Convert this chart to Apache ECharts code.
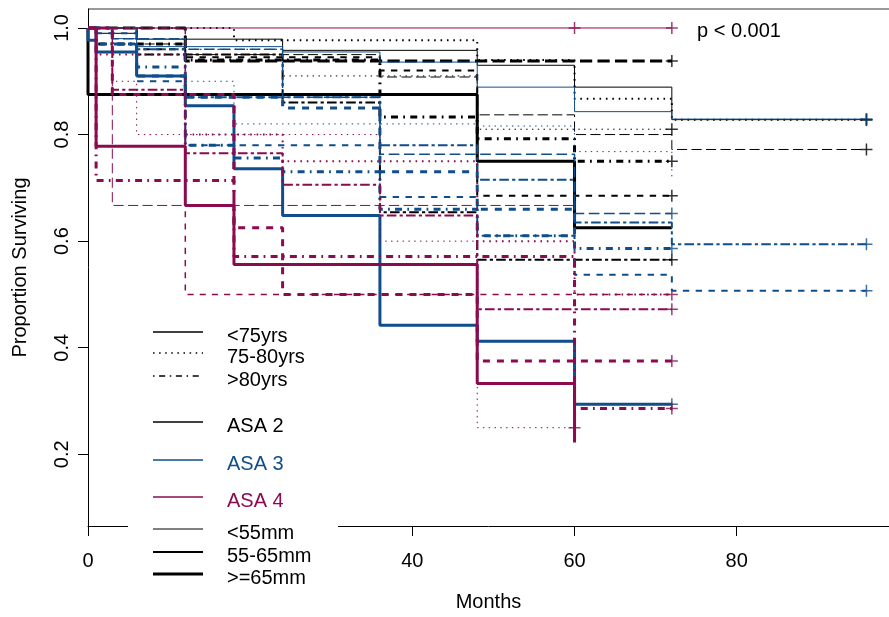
<!DOCTYPE html>
<html>
<head>
<meta charset="utf-8">
<script src="https://cdn.jsdelivr.net/npm/echarts@6/dist/echarts.min.js"></script>
<style>
  html, body { margin: 0; padding: 0; background: #fff; }
  #chart { width: 889px; height: 617px; }
</style>
</head>
<body>
<div id="chart"></div>
<script>
// axis ticks
var xTicks = [0, 20, 40, 60, 80];
var yTicks = [0.2, 0.4, 0.6, 0.8, 1.0];

// survival curves: times (months), proportion surviving, censor times
// ASA 2 (black)
var k1T = [0, 0, 48, 60, 72],                     k1S = [1, 0.875, 0.75, 0.625, 0.625],          k1C = [];
var k2T = [0, 12, 72],                            k2S = [1, 0.938, 0.938],                       k2C = [72];
var k3T = [0, 18, 48, 60, 72, 96],                k3S = [1, 0.977, 0.94, 0.867, 0.828, 0.828],   k3C = [96];
var k4T = [0, 1, 6, 24, 48, 60, 72, 96],          k4S = [1, 0.99, 0.979, 0.958, 0.93, 0.889, 0.828, 0.828], k4C = [96];
var k5T = [0, 3, 12, 36, 48, 60, 72, 96],         k5S = [1, 0.97, 0.95, 0.908, 0.837, 0.8, 0.772, 0.772], k5C = [96];
var k6T = [0, 1, 12, 36, 48, 60, 72],             k6S = [1, 0.97, 0.94, 0.833, 0.792, 0.75, 0.75], k6C = [72];
var k7T = [0, 6, 12, 36, 48, 72],                 k7S = [1, 0.96, 0.945, 0.92, 0.685, 0.685],    k7C = [72];
var k8T = [0, 6, 24, 36, 48, 72],                 k8S = [1, 0.95, 0.86, 0.654, 0.565, 0.565],    k8C = [72];
var k9T = [0, 12, 24, 48, 72],                    k9S = [1, 0.96, 0.91, 0.81, 0.81],             k9C = [72];
// ASA 3 (blue)
var b1T = [0, 0, 1, 6, 12, 18, 24, 36, 48, 60, 72], b1S = [1, 0.977, 0.955, 0.91, 0.854, 0.736, 0.648, 0.442, 0.412, 0.294, 0.294], b1C = [72];
var b2T = [0, 3, 6, 24, 36, 48, 60, 72, 96],      b2S = [1, 0.98, 0.965, 0.955, 0.936, 0.889, 0.843, 0.829, 0.829], b2C = [96];
var b3T = [0, 6, 12, 36, 48, 60, 72, 96],         b3S = [1, 0.96, 0.87, 0.78, 0.715, 0.635, 0.594, 0.594], b3C = [96];
var b4T = [0, 1, 6, 12, 36, 48, 60, 72, 96],      b4S = [1, 0.99, 0.9, 0.78, 0.683, 0.61, 0.537, 0.507, 0.507], b4C = [96];
var b5T = [0, 3, 6, 12, 18, 24, 36, 48, 60, 72],  b5S = [1, 0.97, 0.927, 0.78, 0.756, 0.73, 0.66, 0.61, 0.586, 0.586], b5C = [72];
var b6T = [0, 3, 12, 24, 36, 60, 72],             b6S = [1, 0.98, 0.96, 0.87, 0.763, 0.652, 0.652], b6C = [72];
var b7T = [0, 3, 12, 18, 48, 60, 72],             b7S = [1, 0.98, 0.9, 0.82, 0.816, 0.768, 0.715], b7C = [];
var b8T = [0, 1, 6, 12, 24, 36, 48, 60],          b8S = [1, 0.97, 0.91, 0.87, 0.85, 0.73, 0.66, 0.61], b8C = [];
// ASA 4 (maroon)
var m1T = [0, 72],                                m1S = [1, 1],                                  m1C = [60, 72];
var m2T = [0, 1, 12, 18, 48, 60],                 m2S = [1, 0.778, 0.667, 0.556, 0.333, 0.222],  m2C = [];
var m3T = [0, 1, 18, 60, 72],                     m3S = [1, 0.714, 0.571, 0.286, 0.286],         m3C = [72];
var m4T = [0, 3, 60],                             m4S = [1, 0.667, 0.667],                       m4C = [];
var m5T = [0, 12, 72],                            m5S = [1, 0.5, 0.5],                           m5C = [];
var m6T = [0, 3, 18, 24, 48, 72],                 m6S = [1, 0.875, 0.625, 0.5, 0.375, 0.375],    m6C = [72];
var m7T = [0, 3, 6, 36, 48, 60],                  m7S = [1, 0.9, 0.8, 0.6, 0.25, 0.25],          m7C = [60];
var m8T = [0, 1, 12, 24, 48, 60, 72],             m8S = [1, 0.95, 0.8, 0.75, 0.6, 0.5, 0.5],     m8C = [72];
var m9T = [0, 3, 12, 24, 36, 48, 72],             m9S = [1, 0.884, 0.765, 0.706, 0.648, 0.472, 0.472], m9C = [72];

var BLACK = '#000000', BLUE = '#104E8B', MAROON = '#8B0A50';
var FONT = '"Liberation Sans", Arial, Helvetica, sans-serif';

// [times, surv, censor, colour, width, lty]
var curves = [
  [k1T, k1S, k1C, BLACK, 3, 'solid'],
  [k2T, k2S, k2C, BLACK, 3, 'longdash'],
  [k3T, k3S, k3C, BLACK, 2, 'dotted'],
  [k4T, k4S, k4C, BLACK, 1, 'solid'],
  [k5T, k5S, k5C, BLACK, 1, 'longdash'],
  [k6T, k6S, k6C, BLACK, 3, 'dotdash'],
  [k7T, k7S, k7C, BLACK, 2, 'dashed'],
  [k8T, k8S, k8C, BLACK, 2, 'twodash'],
  [k9T, k9S, k9C, BLACK, 1, 'dotted'],
  [b1T, b1S, b1C, BLUE, 3, 'solid'],
  [b2T, b2S, b2C, BLUE, 1, 'solid'],
  [b3T, b3S, b3C, BLUE, 2, 'twodash'],
  [b4T, b4S, b4C, BLUE, 2, 'dashed'],
  [b5T, b5S, b5C, BLUE, 3, 'dotdash'],
  [b6T, b6S, b6C, BLUE, 1.5, 'longdash'],
  [b7T, b7S, b7C, BLUE, 1, 'dotted'],
  [b8T, b8S, b8C, BLUE, 3, 'dashed'],
  [m1T, m1S, m1C, MAROON, 1, 'solid'],
  [m2T, m2S, m2C, MAROON, 3, 'solid'],
  [m3T, m3S, m3C, MAROON, 3, 'dotdash'],
  [m4T, m4S, m4C, MAROON, 1, 'longdash'],
  [m5T, m5S, m5C, MAROON, 1.5, 'dashed'],
  [m6T, m6S, m6C, MAROON, 3, 'dashed'],
  [m7T, m7S, m7C, MAROON, 1, 'dotted'],
  [m8T, m8S, m8C, MAROON, 2, 'dotted'],
  [m9T, m9S, m9C, MAROON, 2, 'twodash']
];

var LTY = { dashed: [4, 4], dotted: [1, 3], dotdash: [1, 3, 4, 3], longdash: [7, 3], twodash: [2, 2, 6, 2] };
function dashFor(lty, w) {
  var base = LTY[lty];
  if (!base) return 'solid';
  var f = 1.3 + 0.15 * w;
  return base.map(function (v) { return v * f; });
}

var PLUS = 'path://M5.25,0h1.5v12h-1.5zM0,5.25h12v1.5h-12z';

var series = [];
curves.forEach(function (c) {
  var t = c[0], s = c[1], cens = c[2];
  series.push({
    type: 'line', step: 'end', symbol: 'none', silent: true, animation: false,
    data: t.map(function (v, i) { return [v, s[i]]; }),
    lineStyle: { color: c[3], width: c[4], type: dashFor(c[5], c[4]), cap: 'butt' }
  });
  if (cens.length) {
    series.push({
      type: 'scatter', symbol: PLUS, symbolSize: 12, silent: true, animation: false,
      itemStyle: { color: c[3] },
      data: cens.map(function (ct) {
        var v = s[0];
        for (var i = 0; i < t.length; i++) { if (t[i] <= ct) v = s[i]; }
        return [ct, v];
      })
    });
  }
});

// legend rows: label, colour, width, lty, y
var legendRows = [
  ['<75yrs', BLACK, 1.5, 'solid', 332],
  ['75-80yrs', BLACK, 1.5, 'dotted', 353],
  ['>80yrs', BLACK, 1.5, 'dotdash', 376],
  ['ASA 2', BLACK, 1.5, 'solid', 422],
  ['ASA 3', BLUE, 1.5, 'solid', 460],
  ['ASA 4', MAROON, 1.5, 'solid', 497],
  ['<55mm', BLACK, 1, 'solid', 529],
  ['55-65mm', BLACK, 2, 'solid', 552],
  ['>=65mm', BLACK, 3, 'solid', 574]
];
var legendEls = [{ type: 'rect', shape: { x: 128, y: 320, width: 210, height: 275 }, style: { fill: '#fff' }, z: 100 }];
legendRows.forEach(function (r) {
  legendEls.push({
    type: 'line', z: 101,
    shape: { x1: 153, y1: r[4], x2: 203, y2: r[4] },
    style: { stroke: r[1], lineWidth: r[2], lineDash: dashFor(r[3], 1.5) === 'solid' ? null : dashFor(r[3], 1.5) }
  });
  legendEls.push({
    type: 'text', z: 101, x: 227, y: r[4] + 4,
    style: { text: r[0], fill: r[1] === BLACK ? '#000' : r[1], font: '20px ' + FONT, textVerticalAlign: 'middle' }
  });
});

var chart = echarts.init(document.getElementById('chart'));
chart.setOption({
  backgroundColor: '#fff',
  animation: false,
  grid: { left: 88, top: 9, right: 0, bottom: 90 },
  xAxis: {
    type: 'value', min: 0, max: 98.78,
    axisLine: { show: true, lineStyle: { color: '#000', width: 1 } },
    axisTick: { show: true, length: 10, customValues: xTicks, lineStyle: { color: '#000' } },
    axisLabel: { customValues: xTicks, fontSize: 20, color: '#000', margin: 25, fontFamily: FONT },
    splitLine: { show: false },
    name: 'Months', nameLocation: 'middle', nameGap: 66,
    nameTextStyle: { fontSize: 20, color: '#000', fontFamily: FONT }
  },
  yAxis: {
    type: 'value', min: 0.0655, max: 1.0356,
    axisLine: { show: true, lineStyle: { color: '#000', width: 1 } },
    axisTick: { show: true, length: 10, customValues: yTicks, lineStyle: { color: '#000' } },
    axisLabel: {
      customValues: yTicks, rotate: 90, fontSize: 20, color: '#000', margin: 16, fontFamily: FONT,
      formatter: function (v) { return v.toFixed(1); }
    },
    splitLine: { show: false },
    name: 'Proportion Surviving', nameLocation: 'middle', nameGap: 58, nameRotate: 90,
    nameTextStyle: { fontSize: 20, color: '#000', fontFamily: FONT }
  },
  graphic: [
    { type: 'line', shape: { x1: 88, y1: 9, x2: 889, y2: 9 }, style: { stroke: '#777', lineWidth: 1.5 } },
    { type: 'text', x: 697, y: 31, style: { text: 'p < 0.001', fill: '#000', font: '20px ' + FONT, textVerticalAlign: 'middle' } },
    { type: 'group', children: legendEls }
  ],
  series: series
});
</script>
</body>
</html>
